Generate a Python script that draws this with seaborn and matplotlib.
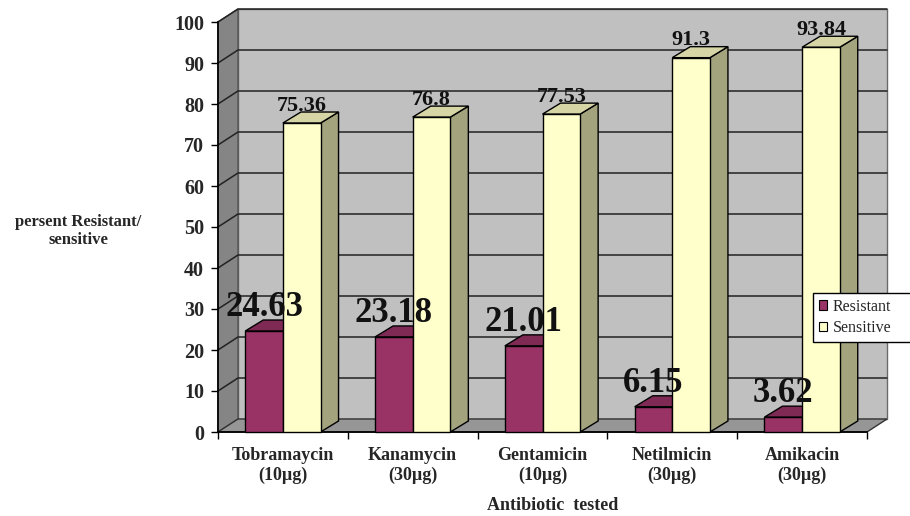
import matplotlib
matplotlib.use("Agg")
import matplotlib.pyplot as plt
from matplotlib.patches import Polygon, Patch, Rectangle
import numpy as np
import pandas as pd
import seaborn as sns

# ---- data -------------------------------------------------------------
antibiotics = ["Tobramaycin\n(10µg)", "Kanamycin\n(30µg)", "Gentamicin\n(10µg)",
               "Netilmicin\n(30µg)", "Amikacin\n(30µg)"]
resistant = [24.63, 23.18, 21.01, 6.15, 3.62]
sensitive = [75.36, 76.8, 77.53, 91.3, 93.84]
series = ["Resistant", "Sensitive"]
y_ticks = list(range(0, 101, 10))

df = pd.DataFrame({
    "Antibiotic": antibiotics * 2,
    "Series": [series[0]] * len(resistant) + [series[1]] * len(sensitive),
    "Value": resistant + sensitive,
})

# ---- style ------------------------------------------------------------
sns.set_theme(style="white")
plt.rcParams["font.family"] = ["Liberation Serif", "DejaVu Serif"]
plt.rcParams["font.weight"] = "bold"

front = {"Resistant": "#993366", "Sensitive": "#ffffcc"}
side = {"Resistant": "#6e2449", "Sensitive": "#a3a37e"}
top = {"Resistant": "#7e2a55", "Sensitive": "#d5d5a6"}

W, H = 910, 516
fig = plt.figure(figsize=(W / 100, H / 100), dpi=100)
ax = fig.add_axes([218 / W, (H - 432) / H, (867 - 218) / W, (432 - 22) / H])

sns.barplot(data=df, x="Antibiotic", y="Value", hue="Series", hue_order=series,
            palette=front, width=0.58, gap=0, edgecolor="black", linewidth=1,
            saturation=1, legend=False, ax=ax)

# the front faces of the bars, in left-to-right order
bars = sorted([p for p in ax.patches if isinstance(p, Rectangle) and p.get_height() > 0],
              key=lambda p: p.get_x())

n = len(antibiotics)
ax.set_xlim(-0.5, n - 0.5)
ax.set_ylim(0, 100)
ax.patch.set_visible(False)

# pixel -> data conversion for the depth effect
px_x = ax.bbox.width / n
px_y = ax.bbox.height / 100.0
wdx, wdy = 20 / px_x, 13 / px_y      # depth of the wall box
ddx, ddy = 18 / px_x, 11 / px_y      # depth of each bar

x0, x1 = -0.5, n - 0.5
# back wall
ax.add_patch(Polygon([(x0 + wdx, wdy), (x1 + wdx, wdy), (x1 + wdx, 100 + wdy),
                      (x0 + wdx, 100 + wdy)], closed=True, fc="#c0c0c0",
                     ec="#6a6a6a", lw=1, clip_on=False, zorder=0))
# left side wall
ax.add_patch(Polygon([(x0, 0), (x0 + wdx, wdy), (x0 + wdx, 100 + wdy), (x0, 100)],
                     closed=True, fc="#858585", ec="#555555", lw=1,
                     clip_on=False, zorder=0.5))
# floor
ax.add_patch(Polygon([(x0, 0), (x1, 0), (x1 + wdx, wdy), (x0 + wdx, wdy)],
                     closed=True, fc="#969696", ec="#333333", lw=1,
                     clip_on=False, zorder=0.6))
# gridlines on side and back wall
for v in y_ticks[1:]:
    ax.plot([x0, x0 + wdx, x1 + wdx], [v, v + wdy, v + wdy], color="#222222",
            lw=1.1, clip_on=False, zorder=0.7)

res_rgb = np.array(matplotlib.colors.to_rgb(front["Resistant"]))
z = 2
for b in bars:
    bx, bw, bh = b.get_x(), b.get_width(), b.get_height()
    name = "Resistant" if np.allclose(b.get_facecolor()[:3], res_rgb, atol=0.02) else "Sensitive"
    ax.add_patch(Polygon([(bx + bw, 0), (bx + bw + ddx, ddy), (bx + bw + ddx, bh + ddy),
                          (bx + bw, bh)], closed=True, fc=side[name], ec="black",
                         lw=1, clip_on=False, zorder=z))
    ax.add_patch(Polygon([(bx, bh), (bx + bw, bh), (bx + bw + ddx, bh + ddy),
                          (bx + ddx, bh + ddy)], closed=True, fc=top[name], ec="black",
                         lw=1, clip_on=False, zorder=z))
    b.set_zorder(z + 0.5)
    b.set_clip_on(False)
    label = f"{bh:g}"
    if name == "Resistant":
        ax.annotate(label, (bx + bw / 2, bh), xytext=(0, 11), textcoords="offset points",
                    ha="center", va="baseline", fontsize=25, fontweight="bold",
                    color="#111111", zorder=20, annotation_clip=False)
    else:
        ax.annotate(label, (bx + bw / 2, bh), xytext=(0, 9), textcoords="offset points",
                    ha="center", va="baseline", fontsize=16, fontweight="bold",
                    color="#111111", zorder=20, annotation_clip=False)
    z += 1

# axes, ticks, labels
for s in ["top", "right"]:
    ax.spines[s].set_visible(False)
ax.spines["left"].set_color("black")
ax.spines["bottom"].set_color("black")
ax.spines["left"].set_zorder(1)
ax.spines["bottom"].set_zorder(1)
ax.set_yticks(y_ticks)
ax.tick_params(axis="y", length=5, width=1, color="black", direction="out",
               labelsize=14.5, pad=5, left=True)
for t in ax.get_yticklabels():
    t.set_fontweight("bold")
ax.set_xticks(range(n))
ax.set_xticklabels(antibiotics, fontsize=13, fontweight="bold", linespacing=1.2)
ax.set_xticks(np.arange(n + 1) - 0.5, minor=True)
ax.tick_params(axis="x", which="major", length=0, pad=11)
ax.tick_params(axis="x", which="minor", length=5, width=1, color="black",
               direction="out", bottom=True)
ax.set_xlabel("")
ax.set_ylabel("")

fig.text(78 / W, 1 - 231 / H, "persent Resistant/\nsensitive", ha="center", va="center",
         fontsize=12, fontweight="bold", linespacing=1.25)
fig.text(553 / W, 1 - 505 / H, "Antibiotic  tested", ha="center", va="center",
         fontsize=13, fontweight="bold")

handles = [Patch(fc=front[s], ec="black", lw=0.8) for s in series]
leg = fig.legend(handles, series, loc="upper left",
                 bbox_to_anchor=(813 / W, 1 - 293 / H, 110 / W, 0), mode="expand",
                 frameon=True, fancybox=False, edgecolor="black", framealpha=1,
                 fontsize=11.5, handlelength=0.55, handleheight=0.55, handletextpad=0.35,
                 borderpad=0.35, labelspacing=0.35, borderaxespad=0)
leg.get_frame().set_linewidth(1)
for t in leg.get_texts():
    t.set_fontweight("normal")

fig.savefig("out.png", dpi=100)
